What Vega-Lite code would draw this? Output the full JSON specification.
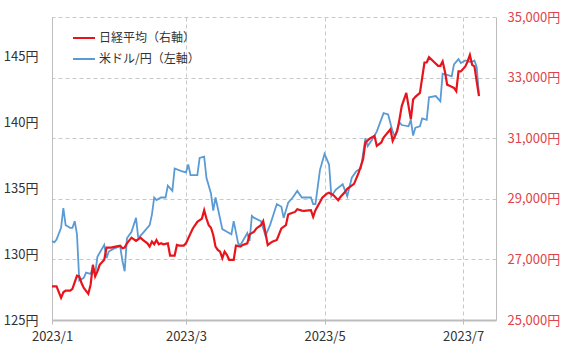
{
  "$schema": "https://vega.github.io/schema/vega-lite/v6.json",
  "autosize": {"type": "none"},
  "width": 444,
  "height": 303,
  "padding": {"left": 52, "top": 17, "right": 72, "bottom": 35},
  "background": "white",
  "config": {
    "font": "Noto Sans CJK JP",
    "view": {"stroke": null}
  },
  "datasets": {
    "usd": [
      {"date": "2023/01/01", "v": 131.0}, {"date": "2023/01/02", "v": 130.9}, {"date": "2023/01/03", "v": 131.1},
      {"date": "2023/01/05", "v": 132.0}, {"date": "2023/01/06", "v": 133.5}, {"date": "2023/01/07", "v": 132.2},
      {"date": "2023/01/08", "v": 132.1}, {"date": "2023/01/09", "v": 132.0}, {"date": "2023/01/10", "v": 132.0},
      {"date": "2023/01/11", "v": 132.5}, {"date": "2023/01/12", "v": 131.5}, {"date": "2023/01/13", "v": 128.0},
      {"date": "2023/01/15", "v": 128.2}, {"date": "2023/01/16", "v": 128.6}, {"date": "2023/01/18", "v": 128.5},
      {"date": "2023/01/19", "v": 129.0}, {"date": "2023/01/20", "v": 128.5}, {"date": "2023/01/21", "v": 129.8},
      {"date": "2023/01/24", "v": 130.7}, {"date": "2023/01/25", "v": 129.7}, {"date": "2023/01/26", "v": 130.2},
      {"date": "2023/01/28", "v": 130.4}, {"date": "2023/01/31", "v": 130.6}, {"date": "2023/02/01", "v": 129.5},
      {"date": "2023/02/02", "v": 128.7}, {"date": "2023/02/03", "v": 131.2}, {"date": "2023/02/05", "v": 131.7},
      {"date": "2023/02/07", "v": 132.75}, {"date": "2023/02/08", "v": 131.2}, {"date": "2023/02/09", "v": 131.4},
      {"date": "2023/02/10", "v": 131.6}, {"date": "2023/02/13", "v": 132.2}, {"date": "2023/02/14", "v": 133.0},
      {"date": "2023/02/15", "v": 134.3}, {"date": "2023/02/16", "v": 134.1}, {"date": "2023/02/18", "v": 134.3},
      {"date": "2023/02/20", "v": 134.3}, {"date": "2023/02/21", "v": 135.2}, {"date": "2023/02/23", "v": 134.8},
      {"date": "2023/02/24", "v": 136.5}, {"date": "2023/02/27", "v": 136.3}, {"date": "2023/03/01", "v": 136.2},
      {"date": "2023/03/02", "v": 136.8}, {"date": "2023/03/03", "v": 136.0}, {"date": "2023/03/06", "v": 136.0},
      {"date": "2023/03/07", "v": 137.3}, {"date": "2023/03/09", "v": 137.4}, {"date": "2023/03/10", "v": 135.8},
      {"date": "2023/03/12", "v": 134.6}, {"date": "2023/03/13", "v": 133.3}, {"date": "2023/03/14", "v": 134.3},
      {"date": "2023/03/15", "v": 133.5}, {"date": "2023/03/17", "v": 131.9}, {"date": "2023/03/19", "v": 131.7},
      {"date": "2023/03/21", "v": 131.5}, {"date": "2023/03/22", "v": 132.5}, {"date": "2023/03/24", "v": 130.8},
      {"date": "2023/03/25", "v": 130.7}, {"date": "2023/03/28", "v": 131.6}, {"date": "2023/03/29", "v": 131.0},
      {"date": "2023/03/30", "v": 132.9}, {"date": "2023/03/31", "v": 132.75}, {"date": "2023/04/03", "v": 132.5},
      {"date": "2023/04/05", "v": 131.4}, {"date": "2023/04/07", "v": 132.2}, {"date": "2023/04/10", "v": 133.8},
      {"date": "2023/04/12", "v": 133.6}, {"date": "2023/04/13", "v": 132.75}, {"date": "2023/04/15", "v": 133.9},
      {"date": "2023/04/17", "v": 134.3}, {"date": "2023/04/19", "v": 134.8}, {"date": "2023/04/21", "v": 134.3},
      {"date": "2023/04/22", "v": 134.3}, {"date": "2023/04/25", "v": 134.3}, {"date": "2023/04/26", "v": 133.8},
      {"date": "2023/04/27", "v": 133.8}, {"date": "2023/04/29", "v": 136.4}, {"date": "2023/05/01", "v": 137.6},
      {"date": "2023/05/03", "v": 136.8}, {"date": "2023/05/04", "v": 134.4}, {"date": "2023/05/06", "v": 134.9},
      {"date": "2023/05/09", "v": 135.3}, {"date": "2023/05/11", "v": 134.4}, {"date": "2023/05/13", "v": 135.8},
      {"date": "2023/05/15", "v": 136.3}, {"date": "2023/05/17", "v": 136.5}, {"date": "2023/05/19", "v": 138.8},
      {"date": "2023/05/20", "v": 138.2}, {"date": "2023/05/22", "v": 138.7}, {"date": "2023/05/24", "v": 139.3},
      {"date": "2023/05/27", "v": 140.7}, {"date": "2023/05/29", "v": 140.6}, {"date": "2023/05/31", "v": 139.3},
      {"date": "2023/06/01", "v": 138.9}, {"date": "2023/06/03", "v": 140.0}, {"date": "2023/06/04", "v": 139.8},
      {"date": "2023/06/07", "v": 139.7}, {"date": "2023/06/08", "v": 140.2}, {"date": "2023/06/09", "v": 139.0},
      {"date": "2023/06/10", "v": 139.6}, {"date": "2023/06/12", "v": 139.7}, {"date": "2023/06/13", "v": 140.3},
      {"date": "2023/06/15", "v": 140.2}, {"date": "2023/06/16", "v": 141.9}, {"date": "2023/06/19", "v": 142.0},
      {"date": "2023/06/21", "v": 141.6}, {"date": "2023/06/22", "v": 143.7}, {"date": "2023/06/24", "v": 143.6},
      {"date": "2023/06/26", "v": 143.5}, {"date": "2023/06/27", "v": 144.4}, {"date": "2023/06/29", "v": 144.8},
      {"date": "2023/06/30", "v": 144.5}, {"date": "2023/07/01", "v": 144.6}, {"date": "2023/07/02", "v": 144.7},
      {"date": "2023/07/04", "v": 144.6}, {"date": "2023/07/05", "v": 144.6}, {"date": "2023/07/06", "v": 144.7},
      {"date": "2023/07/07", "v": 144.2}, {"date": "2023/07/08", "v": 142.1}
    ],
    "nikkei": [
      {"date": "2023/01/01", "v": 26113}, {"date": "2023/01/03", "v": 26113}, {"date": "2023/01/05", "v": 25731},
      {"date": "2023/01/06", "v": 25916}, {"date": "2023/01/07", "v": 25971}, {"date": "2023/01/09", "v": 25971},
      {"date": "2023/01/10", "v": 26026}, {"date": "2023/01/12", "v": 26462}, {"date": "2023/01/13", "v": 26440},
      {"date": "2023/01/14", "v": 26222}, {"date": "2023/01/15", "v": 26058}, {"date": "2023/01/17", "v": 25862},
      {"date": "2023/01/18", "v": 26167}, {"date": "2023/01/19", "v": 26822}, {"date": "2023/01/20", "v": 26440},
      {"date": "2023/01/21", "v": 26604}, {"date": "2023/01/22", "v": 26822}, {"date": "2023/01/24", "v": 26986},
      {"date": "2023/01/25", "v": 27389}, {"date": "2023/01/27", "v": 27389}, {"date": "2023/01/29", "v": 27422},
      {"date": "2023/01/31", "v": 27455}, {"date": "2023/02/01", "v": 27367}, {"date": "2023/02/02", "v": 27389},
      {"date": "2023/02/03", "v": 27531}, {"date": "2023/02/05", "v": 27717}, {"date": "2023/02/07", "v": 27607},
      {"date": "2023/02/09", "v": 27717}, {"date": "2023/02/10", "v": 27640}, {"date": "2023/02/12", "v": 27531},
      {"date": "2023/02/13", "v": 27422}, {"date": "2023/02/14", "v": 27586}, {"date": "2023/02/15", "v": 27498},
      {"date": "2023/02/16", "v": 27640}, {"date": "2023/02/17", "v": 27498}, {"date": "2023/02/18", "v": 27531},
      {"date": "2023/02/19", "v": 27498}, {"date": "2023/02/21", "v": 27531}, {"date": "2023/02/22", "v": 27127},
      {"date": "2023/02/24", "v": 27127}, {"date": "2023/02/25", "v": 27476}, {"date": "2023/02/26", "v": 27455},
      {"date": "2023/02/28", "v": 27455}, {"date": "2023/03/01", "v": 27531}, {"date": "2023/03/03", "v": 27858},
      {"date": "2023/03/04", "v": 28022}, {"date": "2023/03/06", "v": 28240}, {"date": "2023/03/08", "v": 28349},
      {"date": "2023/03/09", "v": 28622}, {"date": "2023/03/10", "v": 28349}, {"date": "2023/03/11", "v": 28131},
      {"date": "2023/03/12", "v": 28044}, {"date": "2023/03/13", "v": 27804}, {"date": "2023/03/14", "v": 27422},
      {"date": "2023/03/15", "v": 27313}, {"date": "2023/03/16", "v": 27258}, {"date": "2023/03/17", "v": 27040},
      {"date": "2023/03/18", "v": 27258}, {"date": "2023/03/19", "v": 27149}, {"date": "2023/03/20", "v": 26986},
      {"date": "2023/03/22", "v": 26986}, {"date": "2023/03/23", "v": 27455}, {"date": "2023/03/25", "v": 27422},
      {"date": "2023/03/26", "v": 27476}, {"date": "2023/03/28", "v": 27531}, {"date": "2023/03/29", "v": 27826},
      {"date": "2023/03/31", "v": 27913}, {"date": "2023/04/01", "v": 28022}, {"date": "2023/04/03", "v": 28131},
      {"date": "2023/04/04", "v": 28262}, {"date": "2023/04/06", "v": 27476}, {"date": "2023/04/08", "v": 27586},
      {"date": "2023/04/10", "v": 27640}, {"date": "2023/04/12", "v": 28022}, {"date": "2023/04/14", "v": 28131},
      {"date": "2023/04/15", "v": 28480}, {"date": "2023/04/16", "v": 28513}, {"date": "2023/04/18", "v": 28567},
      {"date": "2023/04/19", "v": 28655}, {"date": "2023/04/21", "v": 28611}, {"date": "2023/04/22", "v": 28600},
      {"date": "2023/04/25", "v": 28622}, {"date": "2023/04/26", "v": 28404}, {"date": "2023/04/27", "v": 28622},
      {"date": "2023/04/29", "v": 28895}, {"date": "2023/04/30", "v": 29037}, {"date": "2023/05/02", "v": 29168},
      {"date": "2023/05/03", "v": 29200}, {"date": "2023/05/05", "v": 29113}, {"date": "2023/05/07", "v": 28949},
      {"date": "2023/05/08", "v": 29058}, {"date": "2023/05/10", "v": 29222}, {"date": "2023/05/11", "v": 29331},
      {"date": "2023/05/14", "v": 29495}, {"date": "2023/05/16", "v": 29855}, {"date": "2023/05/18", "v": 30313},
      {"date": "2023/05/19", "v": 30859}, {"date": "2023/05/21", "v": 30990}, {"date": "2023/05/23", "v": 31077},
      {"date": "2023/05/24", "v": 30750}, {"date": "2023/05/26", "v": 30859}, {"date": "2023/05/27", "v": 31022},
      {"date": "2023/05/30", "v": 31295}, {"date": "2023/05/31", "v": 30913}, {"date": "2023/06/02", "v": 31240},
      {"date": "2023/06/03", "v": 31622}, {"date": "2023/06/04", "v": 32059}, {"date": "2023/06/06", "v": 32495},
      {"date": "2023/06/08", "v": 31622}, {"date": "2023/06/09", "v": 32277}, {"date": "2023/06/10", "v": 32364},
      {"date": "2023/06/12", "v": 32495}, {"date": "2023/06/14", "v": 33499}, {"date": "2023/06/15", "v": 33499},
      {"date": "2023/06/16", "v": 33673}, {"date": "2023/06/18", "v": 33532}, {"date": "2023/06/20", "v": 33390},
      {"date": "2023/06/21", "v": 33390}, {"date": "2023/06/22", "v": 33532}, {"date": "2023/06/23", "v": 33204},
      {"date": "2023/06/24", "v": 32768}, {"date": "2023/06/25", "v": 32735}, {"date": "2023/06/27", "v": 32659},
      {"date": "2023/06/28", "v": 32550}, {"date": "2023/06/29", "v": 33204}, {"date": "2023/06/30", "v": 33204},
      {"date": "2023/07/02", "v": 33368}, {"date": "2023/07/03", "v": 33532}, {"date": "2023/07/04", "v": 33750},
      {"date": "2023/07/05", "v": 33423}, {"date": "2023/07/06", "v": 33368}, {"date": "2023/07/07", "v": 32877},
      {"date": "2023/07/08", "v": 32386}
    ]
  },
  "encoding": {
    "x": {
      "field": "date",
      "type": "temporal",
      "scale": {"domain": [{"year": 2023, "month": 1, "date": 1}, {"year": 2023, "month": 7, "date": 15, "hours": 12}]},
      "axis": {
        "title": null,
        "values": [{"year": 2023, "month": 1, "date": 1}, {"year": 2023, "month": 3, "date": 1}, {"year": 2023, "month": 5, "date": 1}, {"year": 2023, "month": 7, "date": 1}],
        "format": "%Y/%-m",
        "labelFontSize": 13,
        "labelColor": "#333333",
        "labelPadding": 6,
        "labelFlush": false,
        "grid": true,
        "gridColor": "#c8c8c8",
        "gridDash": [4, 3],
        "gridWidth": 1,
        "domainColor": "#bdbdbd",
        "domainWidth": 2,
        "tickColor": "#bdbdbd",
        "tickSize": 4
      }
    }
  },
  "layer": [
    {
      "data": {"name": "usd"},
      "mark": {"type": "line", "strokeWidth": 1.8, "interpolate": "linear"},
      "encoding": {
        "y": {
          "field": "v",
          "type": "quantitative",
          "scale": {"domain": [125, 148], "nice": false, "zero": false},
          "axis": {
            "orient": "left",
            "title": null,
            "values": [125, 130, 135, 140, 145],
            "labelExpr": "datum.value + '円'",
            "labelFontSize": 13,
            "labelColor": "#333333",
            "labelPadding": 14,
            "ticks": false,
            "grid": false,
            "domainColor": "#bdbdbd",
            "domainWidth": 1
          }
        },
        "color": {
          "datum": "米ドル/円（左軸）",
          "type": "nominal",
          "scale": {"domain": ["日経平均（右軸）", "米ドル/円（左軸）"], "range": ["#e8141c", "#5b9bd5"]},
          "legend": {
            "title": null,
            "orient": "none",
            "legendX": 20,
            "legendY": 9,
            "symbolType": "stroke",
            "symbolSize": 484,
            "symbolStrokeWidth": 2,
            "labelFontSize": 12,
            "labelColor": "#333333",
            "labelOffset": 3,
            "rowPadding": 3,
            "padding": 0
          }
        }
      }
    },
    {
      "data": {"name": "nikkei"},
      "mark": {"type": "line", "strokeWidth": 2.2, "interpolate": "linear"},
      "encoding": {
        "y": {
          "field": "v",
          "type": "quantitative",
          "scale": {"domain": [25000, 35000], "nice": false, "zero": false},
          "axis": {
            "orient": "right",
            "title": null,
            "values": [25000, 27000, 29000, 31000, 33000, 35000],
            "labelExpr": "format(datum.value, ',') + '円'",
            "labelFontSize": 13,
            "labelColor": "#e0434b",
            "labelPadding": 11,
            "ticks": false,
            "grid": true,
            "gridColor": "#c8c8c8",
            "gridDash": [4, 3],
            "gridWidth": 1,
            "domainColor": "#bdbdbd",
            "domainWidth": 1
          }
        },
        "color": {"datum": "日経平均（右軸）", "type": "nominal"}
      }
    }
  ],
  "resolve": {"scale": {"y": "independent"}, "axis": {"y": "independent"}}
}
